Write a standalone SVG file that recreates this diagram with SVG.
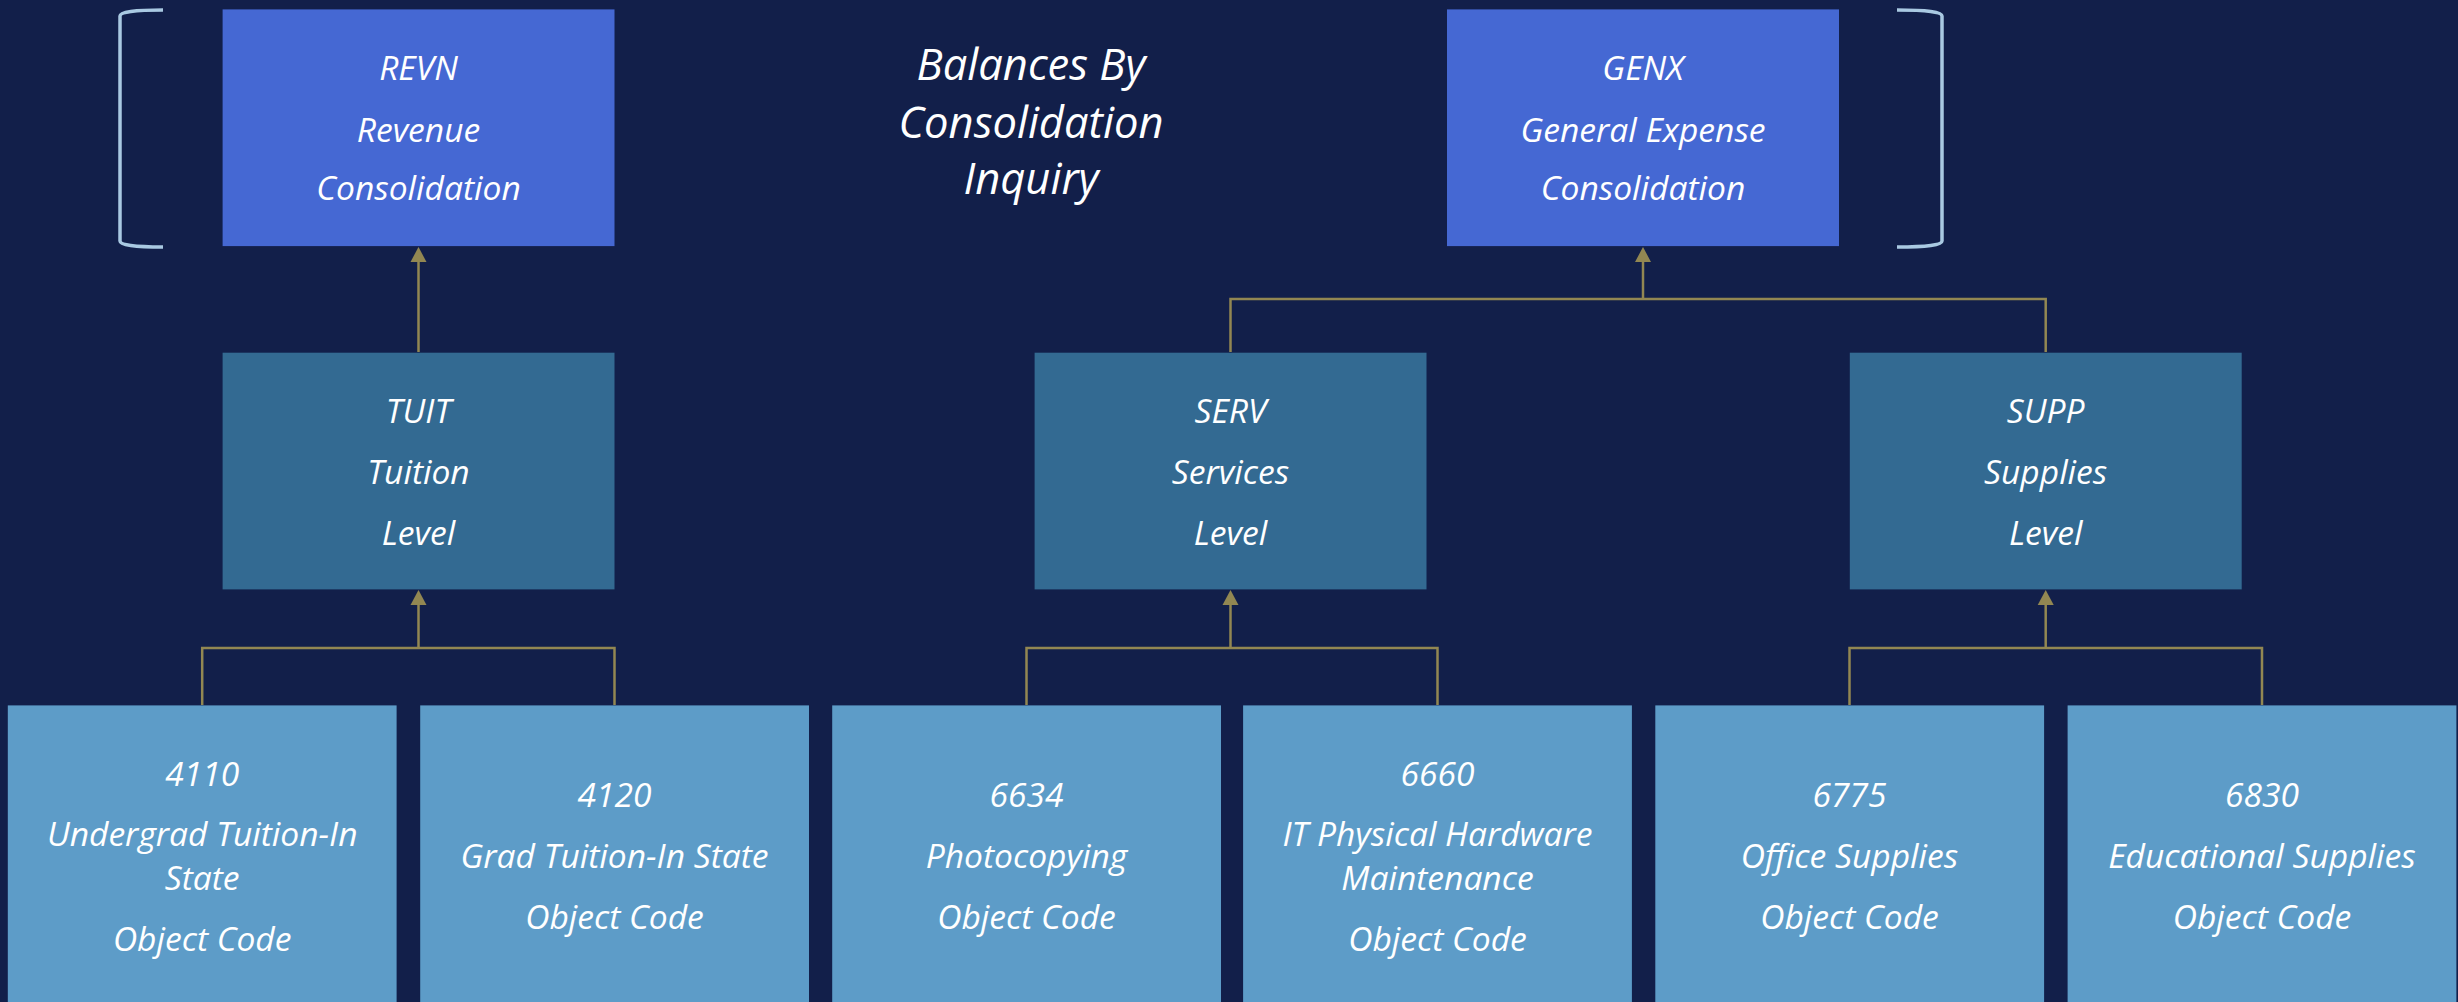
<svg xmlns="http://www.w3.org/2000/svg" width="2458" height="1002" viewBox="0 0 2458 1002">
<defs>
<style>
.bg{fill:#121f4a}
.top{fill:#4568d3}
.mid{fill:#336a92}
.leaf{fill:#5d9cc8}
.t{font-family:"Open Sans","Liberation Sans",sans-serif;font-style:italic;font-size:33.6px;fill:#ffffff;text-anchor:middle}
.title{font-size:43.5px}
.conn{fill:none;stroke:#928752;stroke-width:2.5}
.head{fill:#928752}
.brk{fill:none;stroke:#a9c9e2;stroke-width:3.5;stroke-linecap:butt}
</style>
</defs>
<rect class="bg" x="0" y="0" width="2458" height="1002"/>

<g id="connectors">
<path class="conn" d="M418.5,352 V257"/>
<path class="conn" d="M1230.5,352 V299 H2045.7 V352"/>
<path class="conn" d="M1643,299 V257"/>
<path class="conn" d="M202.2,705 V648 H614.5 V705"/>
<path class="conn" d="M418.5,648 V600"/>
<path class="conn" d="M1026.5,705 V648 H1437.5 V705"/>
<path class="conn" d="M1230.5,648 V600"/>
<path class="conn" d="M1849.5,705 V648 H2262 V705"/>
<path class="conn" d="M2045.7,648 V600"/>
<polygon class="head" points="418.5,247 410.5,262 426.5,262"/>
<polygon class="head" points="1643,247 1635,262 1651,262"/>
<polygon class="head" points="418.5,590 410.5,605 426.5,605"/>
<polygon class="head" points="1230.5,590 1222.5,605 1238.5,605"/>
<polygon class="head" points="2045.7,590 2037.7,605 2053.7,605"/>
</g>

<g id="brackets">
<path class="brk" d="M163,10 Q120,10 120,16 V241 Q120,247 163,247"/>
<path class="brk" d="M1897,10 Q1942,10 1942,16 V241 Q1942,247 1897,247"/>
</g>

<g id="title">
<text class="t title" x="1031" y="80">Balances By</text>
<text class="t title" x="1031" y="138">Consolidation</text>
<text class="t title" x="1031" y="194">Inquiry</text>
</g>

<g id="REVN">
<rect class="top" x="222.6" y="9.4" width="391.9" height="236.7"/>
<text class="t" x="418.5" y="80">REVN</text>
<text class="t" x="418.5" y="142">Revenue</text>
<text class="t" x="418.5" y="200">Consolidation</text>
</g>

<g id="GENX">
<rect class="top" x="1447" y="9.4" width="392" height="236.7"/>
<text class="t" x="1643" y="80">GENX</text>
<text class="t" x="1643" y="142">General Expense</text>
<text class="t" x="1643" y="200">Consolidation</text>
</g>

<g id="TUIT">
<rect class="mid" x="222.6" y="352.7" width="391.9" height="236.7"/>
<text class="t" x="418.5" y="423">TUIT</text>
<text class="t" x="418.5" y="484">Tuition</text>
<text class="t" x="418.5" y="545">Level</text>
</g>

<g id="SERV">
<rect class="mid" x="1034.6" y="352.7" width="391.9" height="236.7"/>
<text class="t" x="1230.5" y="423">SERV</text>
<text class="t" x="1230.5" y="484">Services</text>
<text class="t" x="1230.5" y="545">Level</text>
</g>

<g id="SUPP">
<rect class="mid" x="1849.8" y="352.7" width="391.9" height="236.7"/>
<text class="t" x="2045.7" y="423">SUPP</text>
<text class="t" x="2045.7" y="484">Supplies</text>
<text class="t" x="2045.7" y="545">Level</text>
</g>

<g id="n4110">
<rect class="leaf" x="7.8" y="705.4" width="388.8" height="300"/>
<text class="t" x="202.2" y="786">4110</text>
<text class="t" x="202.2" y="846">Undergrad Tuition-In</text>
<text class="t" x="202.2" y="890">State</text>
<text class="t" x="202.2" y="951">Object Code</text>
</g>

<g id="n4120">
<rect class="leaf" x="420.2" y="705.4" width="388.8" height="300"/>
<text class="t" x="614.5" y="807">4120</text>
<text class="t" x="614.5" y="868">Grad Tuition-In State</text>
<text class="t" x="614.5" y="929">Object Code</text>
</g>

<g id="n6634">
<rect class="leaf" x="832.2" y="705.4" width="388.8" height="300"/>
<text class="t" x="1026.5" y="807">6634</text>
<text class="t" x="1026.5" y="868">Photocopying</text>
<text class="t" x="1026.5" y="929">Object Code</text>
</g>

<g id="n6660">
<rect class="leaf" x="1243.1" y="705.4" width="388.8" height="300"/>
<text class="t" x="1437.5" y="786">6660</text>
<text class="t" x="1437.5" y="846">IT Physical Hardware</text>
<text class="t" x="1437.5" y="890">Maintenance</text>
<text class="t" x="1437.5" y="951">Object Code</text>
</g>

<g id="n6775">
<rect class="leaf" x="1655.3" y="705.4" width="388.8" height="300"/>
<text class="t" x="1849.5" y="807">6775</text>
<text class="t" x="1849.5" y="868">Office Supplies</text>
<text class="t" x="1849.5" y="929">Object Code</text>
</g>

<g id="n6830">
<rect class="leaf" x="2067.6" y="705.4" width="388.8" height="300"/>
<text class="t" x="2262" y="807">6830</text>
<text class="t" x="2262" y="868">Educational Supplies</text>
<text class="t" x="2262" y="929">Object Code</text>
</g>
</svg>
